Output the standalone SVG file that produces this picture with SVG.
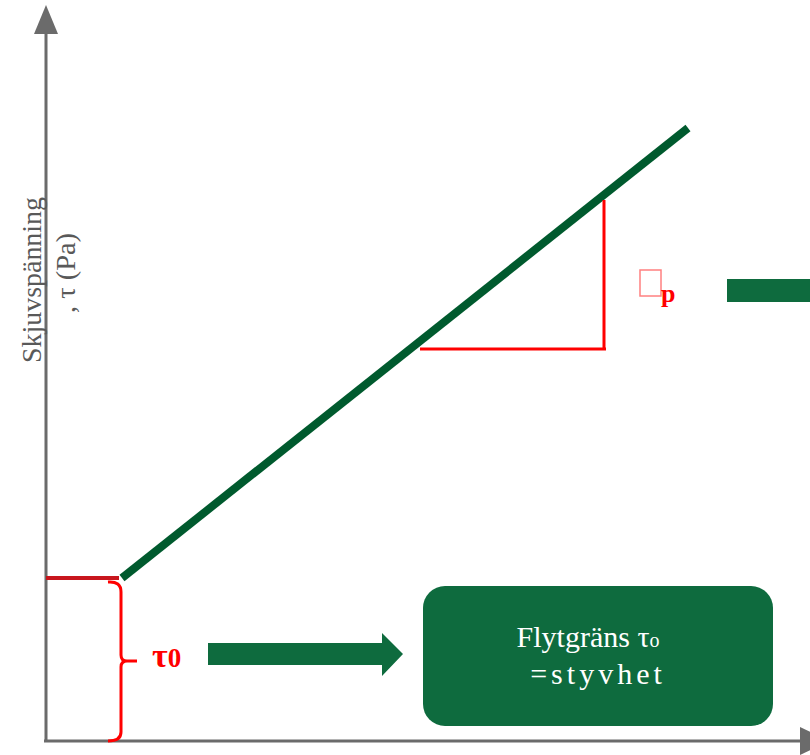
<svg xmlns="http://www.w3.org/2000/svg" width="810" height="755" viewBox="0 0 810 755">
<style>
.axis{stroke:#6b6b6b;stroke-width:3;fill:none}
.ahead{fill:#6b6b6b}
.red{stroke:#ff0000;stroke-width:3;fill:none}
.lbl{font-family:"Liberation Serif",serif;fill:#595959;font-size:28px}
.box{fill:#0e6b3e}
.boxt{font-family:"Liberation Serif",serif;fill:#ffffff;font-size:30px}
.rt{font-family:"Liberation Serif",serif;fill:#ff0000;font-weight:bold}
</style>
<rect width="810" height="755" fill="#ffffff"/>
<g id="axes">
<line class="axis" x1="46" y1="742" x2="46" y2="30"/>
<polygon class="ahead" points="34,34 58,34 46,5"/>
<line class="axis" x1="44" y1="741" x2="802" y2="741"/>
<polygon class="ahead" points="800,727 800,755 830,741"/>
</g>
<g id="ylabel">
<text class="lbl" transform="translate(41,280) rotate(-90)" text-anchor="middle" textLength="166" lengthAdjust="spacingAndGlyphs">Skjuvspänning</text>
<text class="lbl" transform="translate(75,273) rotate(-90)" text-anchor="middle" textLength="80" lengthAdjust="spacingAndGlyphs">, τ (Pa)</text>
</g>
<g id="connectors">
<line x1="122" y1="578" x2="688" y2="128" stroke="#005a2e" stroke-width="8"/>
<line x1="46" y1="578" x2="119" y2="578" stroke="#c8161d" stroke-width="4"/>
<path class="red" d="M108,582 Q121,581 121,592 L121,655 Q121,661 127,661 L137,661 M127,661 Q121,661 121,667 L121,732 Q121,741 108,741"/>
<path class="red" d="M420,349 L606,349 M604,350 L604,200"/>
<polygon class="box" points="208,643 382,643 382,633 403,654 382,676 382,665 208,665"/>
<rect class="box" x="727" y="279" width="90" height="23"/>
</g>
<g id="tau0">
<text class="rt" x="152" y="667" font-size="34">τ<tspan font-size="27">0</tspan></text>
</g>
<g id="etap">
<rect x="640" y="270" width="21" height="26" fill="none" stroke="#ff8080" stroke-width="1.5"/>
<text class="rt" x="661" y="302" font-size="26">p</text>
</g>
<g id="box">
<rect class="box" x="423" y="586" width="350" height="140" rx="22"/>
<text class="boxt" x="588" y="647" text-anchor="middle">Flytgräns τ<tspan font-size="20">o</tspan></text>
<text class="boxt" x="598" y="684" text-anchor="middle" letter-spacing="4">=styvhet</text>
</g>
</svg>
